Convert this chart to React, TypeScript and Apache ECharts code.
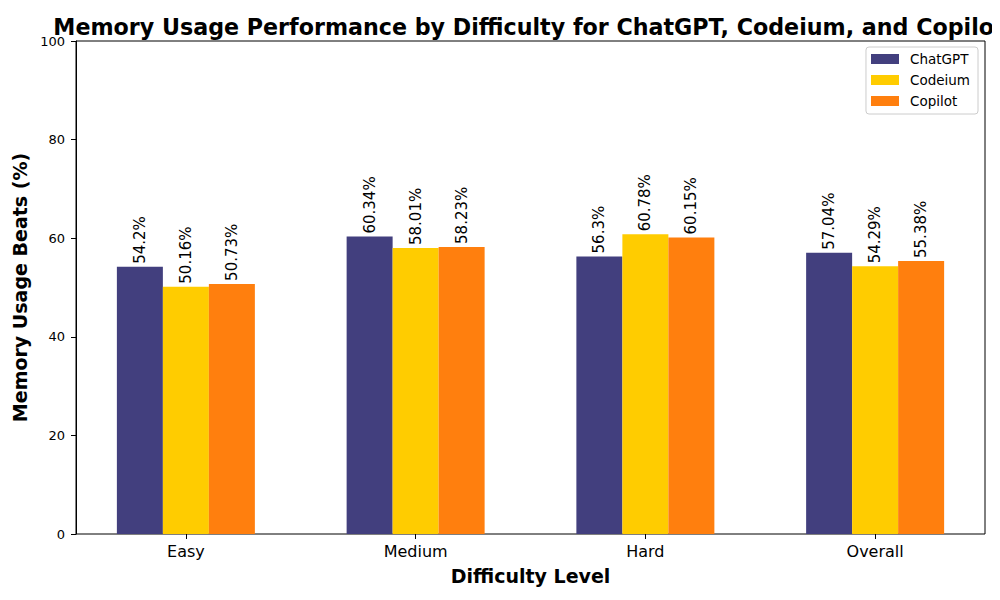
import React, { useEffect, useRef } from "react";
import * as echarts from "echarts";

const categories = ["Easy", "Medium", "Hard", "Overall"];
const chatgpt = [54.2, 60.34, 56.3, 57.04];
const codeium = [50.16, 58.01, 60.78, 54.29];
const copilot = [50.73, 58.23, 60.15, 55.38];
const seriesNames = ["ChatGPT", "Codeium", "Copilot"];
const colors = ["#423f7e", "#ffcc00", "#ff7f0e"];
const yTicks = [0, 20, 40, 60, 80, 100];

const FONT = "DejaVu Sans";

export default function App() {
  const ref = useRef<HTMLDivElement>(null);
  useEffect(() => {
    if (!ref.current) return;
    const chart = echarts.init(ref.current, undefined, { renderer: "svg" });
    const data = [chatgpt, codeium, copilot];
    chart.setOption({
      animation: false,
      backgroundColor: "#ffffff",
      textStyle: { fontFamily: FONT },
      title: {
        text: "Memory Usage Performance by Difficulty for ChatGPT, Codeium, and Copilot",
        left: 524,
        top: 11,
        textAlign: "center",
        textStyle: { fontFamily: FONT, fontWeight: "bold", fontSize: 22.2, color: "#000" },
      },
      legend: {
        data: seriesNames,
        orient: "vertical",
        right: 22,
        top: 47,
        itemWidth: 28,
        itemHeight: 10,
        itemGap: 7,
        padding: [5, 8, 6, 5],
        borderColor: "#cccccc",
        borderWidth: 1,
        borderRadius: 3,
        backgroundColor: "#ffffff",
        textStyle: { fontFamily: FONT, fontSize: 13.5, color: "#000", padding: [0, 0, 0, 6] },
        icon: "rect",
      },
      grid: [
        { left: 76, right: 15, top: 41, bottom: 66, show: true, borderColor: "#000", borderWidth: 1, z: 0 },
        { left: 71, right: 10, top: 41, bottom: 66 },
      ],
      xAxis: [
        { type: "value", gridIndex: 0, show: false, min: 0, max: 1 },
        {
          type: "category",
          gridIndex: 1,
          data: categories,
          axisLine: { show: false },
          axisTick: { show: true, alignWithLabel: true, length: 5, lineStyle: { color: "#000" } },
          axisLabel: { fontFamily: FONT, fontSize: 16, color: "#000", margin: 9 },
          name: "Difficulty Level",
          nameLocation: "middle",
          nameGap: 32,
          nameTextStyle: { fontFamily: FONT, fontSize: 19, fontWeight: "bold", color: "#000" },
        },
      ],
      yAxis: [
        {
          type: "value",
          gridIndex: 0,
          min: 0,
          max: 100,
          interval: 20,
          splitLine: { show: false },
          axisLine: { show: true, lineStyle: { color: "#000" } },
          axisTick: { show: true, length: 5, lineStyle: { color: "#000" } },
          axisLabel: {
            fontFamily: FONT,
            fontSize: 13,
            color: "#000",
            margin: 11,
            formatter: (v: number) => (yTicks.includes(v) ? String(v) : ""),
          },
          name: "Memory Usage Beats (%)",
          nameLocation: "middle",
          nameGap: 45,
          nameTextStyle: { fontFamily: FONT, fontSize: 19, fontWeight: "bold", color: "#000" },
        },
        { type: "value", gridIndex: 1, min: 0, max: 100, show: false },
      ],
      series: seriesNames.map((name, i) => ({
        name,
        type: "bar",
        xAxisIndex: 1,
        yAxisIndex: 1,
        data: data[i],
        barWidth: 46,
        barGap: "0%",
        itemStyle: { color: colors[i] },
        label: {
          show: true,
          position: "top",
          rotate: 90,
          align: "left",
          verticalAlign: "middle",
          distance: 3,
          fontFamily: FONT,
          fontSize: 15,
          color: "#000",
          formatter: (p: any) => `${p.value}%`,
        },
      })),
    });
    return () => chart.dispose();
  }, []);
  return <div ref={ref} style={{ width: 1000, height: 600, margin: -8 }} />;
}
